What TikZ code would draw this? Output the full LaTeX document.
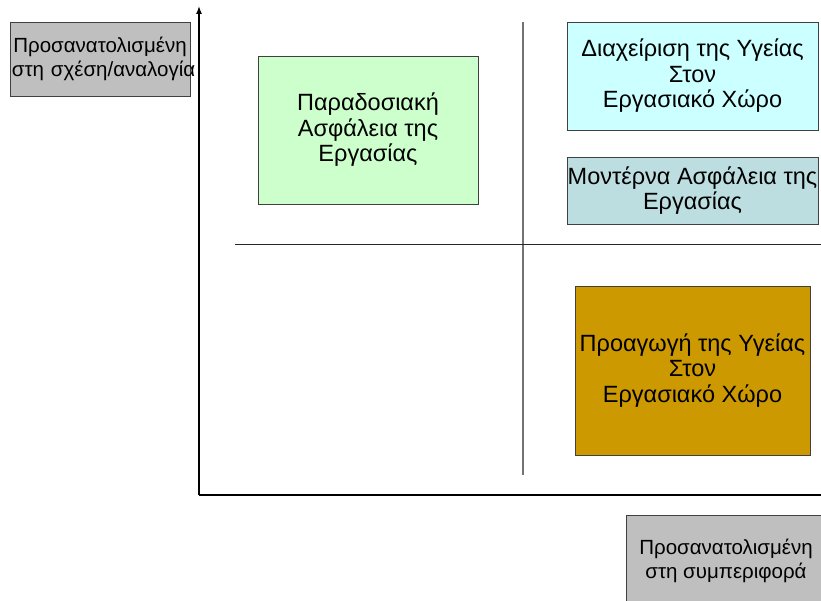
\documentclass[tikz,border=0pt]{standalone}
\usepackage{fontspec}
\setmainfont{Liberation Sans}
\usetikzlibrary{arrows.meta}
\begin{document}
\begin{tikzpicture}[x=1pt,y=-1pt,
  quadbox/.style={draw=black!75,thin,align=center,inner sep=0pt,
    font=\fontsize{23.5}{25.5}\selectfont},
  axisbox/.style={draw=black!75,thin,fill=black!25,align=center,
    inner xsep=2pt,inner ysep=0pt,font=\fontsize{20.5}{24}\selectfont},
  divider/.style={line width=1pt,black!85}]
 \useasboundingbox (0,0) rectangle (821,601);
 \clip (0,0) rectangle (821,601);
 % axes
 \coordinate (origin) at (199,495);
 \coordinate (ytop) at (199,6);
 \coordinate (xend) at (821,495);
 \draw[line width=1.3pt,-{Latex[length=8pt,width=6pt]}] (origin) -- (ytop);
 \draw[line width=1.3pt] (origin) -- (xend);
 % quadrant dividers
 \coordinate (vtop) at (523,22);
 \coordinate (vbot) at (523,475);
 \coordinate (hleft) at (235,245);
 \coordinate (hright) at (821,245);
 \draw[divider,line width=1.4pt,black!55] (vtop) -- (vbot);
 \draw[divider] (hleft) -- (hright);
 % axis labels
 \node[axisbox,text width=176,minimum height=74] (relation) at (100,59)
  {Προσανατολισμένη\\\mbox{στη σχέση/αναλογία}};
 \node[axisbox,minimum width=200,minimum height=92] (behaviour) at (726,561)
  {Προσανατολισμένη\\στη συμπεριφορά};
 % quadrant boxes
 \node[quadbox,fill={rgb,255:red,204;green,255;blue,204},
  minimum width=220,minimum height=148] (traditional) at (368,130)
  {Παραδοσιακή\\Ασφάλεια της\\Εργασίας};
 \node[quadbox,fill={rgb,255:red,204;green,255;blue,255},
  minimum width=251,minimum height=108] (management) at (692.5,76)
  {Διαχείριση της Υγείας\\Στον\\Εργασιακό Χώρο};
 \node[quadbox,fill={rgb,255:red,188;green,222;blue,224},
  minimum width=251,minimum height=67] (modern) at (692.5,190.5)
  {Μοντέρνα Ασφάλεια της\\Εργασίας};
 \node[quadbox,fill={rgb,255:red,204;green,153;blue,0},
  minimum width=235,minimum height=169] (promotion) at (692.5,370.5)
  {Προαγωγή της Υγείας\\Στον\\Εργασιακό Χώρο};
\end{tikzpicture}
\end{document}
